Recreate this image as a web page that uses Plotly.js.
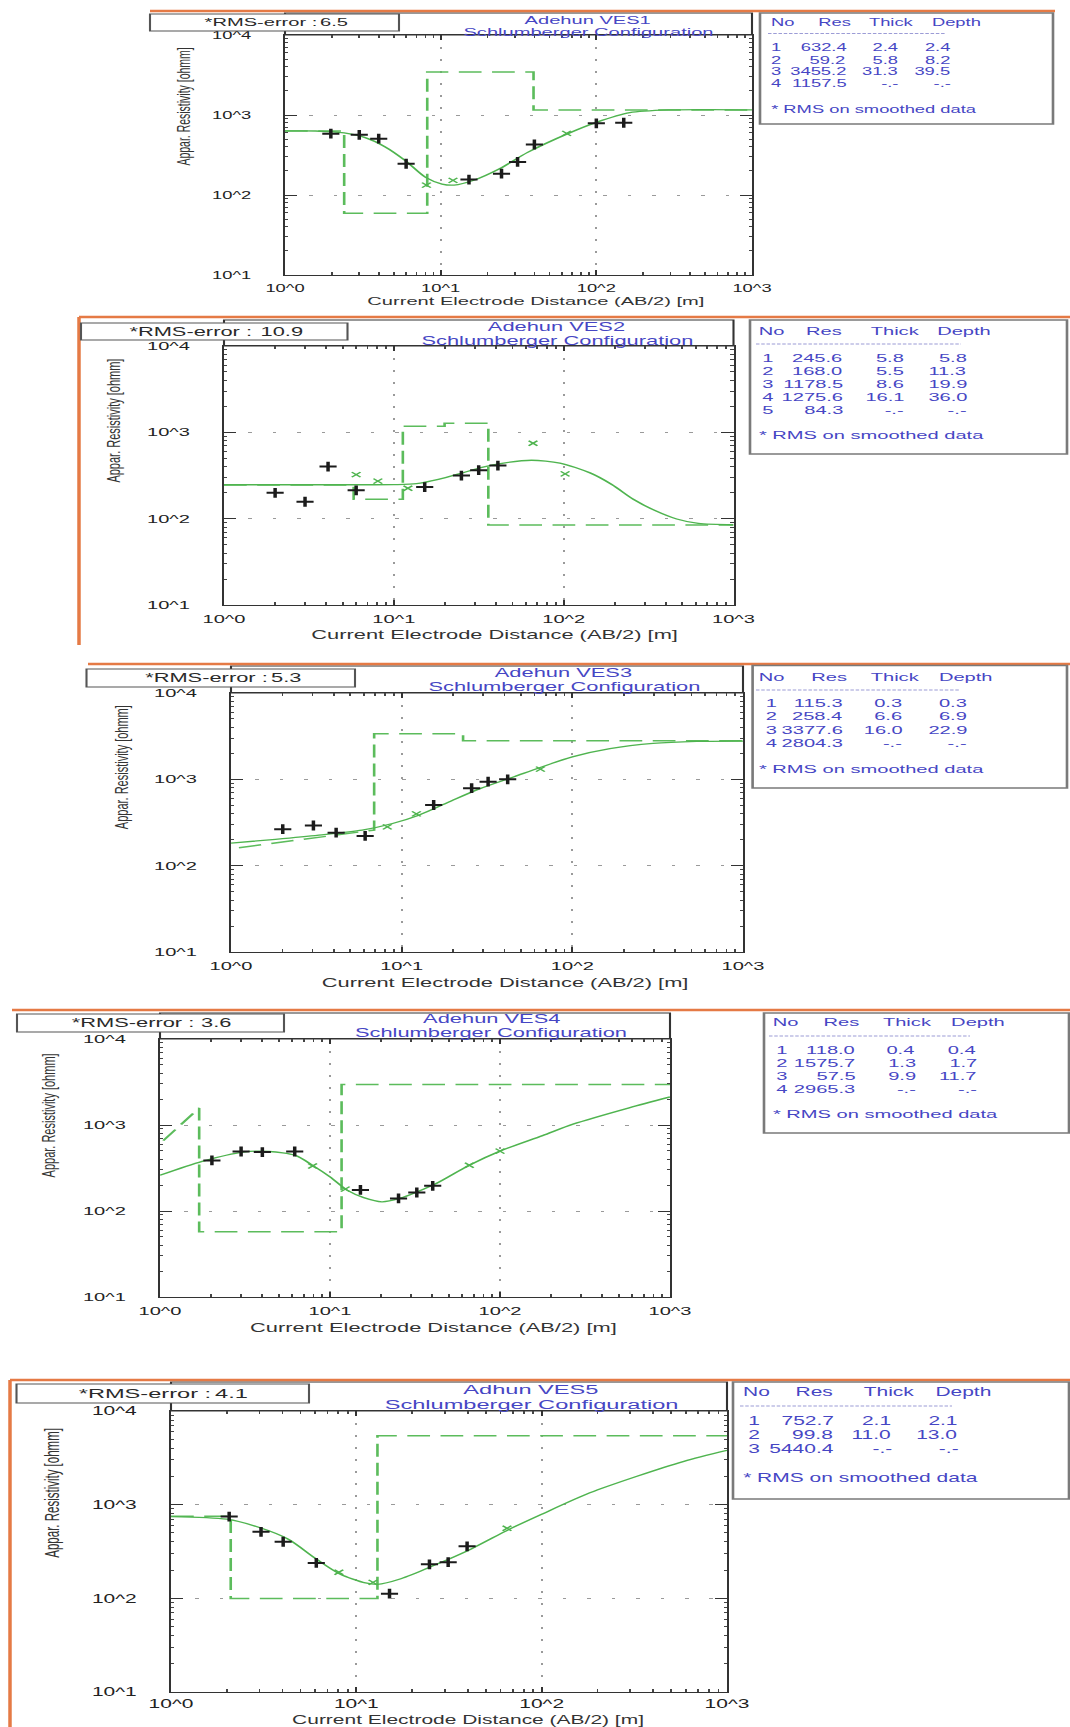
<!DOCTYPE html>
<html><head><meta charset="utf-8">
<script src="https://cdn.plot.ly/plotly-3.0.1.min.js"></script>
<style>
html,body{margin:0;padding:0;background:#fff;overflow:hidden;width:1070px;height:1727px}
#wrap{width:612px;height:1727px;transform:scaleX(1.748366);transform-origin:0 0;}
</style></head>
<body><div id="wrap"><div id="chart" style="width:612px;height:1727px"></div></div>
<script>
// ---------------- DATA ----------------
const vesNames = ['Adehun VES1', 'Adehun VES2', 'Adehun VES3', 'Adehun VES4', 'Adhun VES5'];
const subTitle = 'Schlumberger Configuration';
const rmsError = [6.5, 10.9, 5.3, 3.6, 4.1];
const xTickVals = [1, 10, 100, 1000];
const xTickText = ['10^0', '10^1', '10^2', '10^3'];
const yTickVals = [10, 100, 1000, 10000];
const yTickText = ['10^1', '10^2', '10^3', '10^4'];

// VES1
const ves1Res = [632.4, 59.2, 3455.2, 1157.5];
const ves1Thick = [2.4, 5.8, 31.3];
const ves1Depth = [2.4, 8.2, 39.5];
const ves1FitX = [1, 1.57, 2.4, 3.24, 4.38, 5.93, 8.0, 10.2, 12.2, 16.5, 23.7, 36.2, 66.2, 100, 164, 299, 547, 1000];
const ves1FitY = [632, 631, 596, 525, 402, 269, 166, 137, 133, 154, 211, 341, 589, 809, 1070, 1160, 1170, 1162];
const ves1ObsX = [1.97, 3.0, 4.0, 6.0, 15.2, 24.6, 31.2, 40.0, 100, 150];
const ves1ObsY = [585, 565, 506, 246, 156, 185, 259, 428, 787, 800];
const ves1SmX = [8.1, 12.0, 64.4];
const ves1SmY = [133, 152, 590];

// VES2
const ves2Res = [245.6, 168.0, 1178.5, 1275.6, 84.3];
const ves2Thick = [5.8, 5.5, 8.6, 16.1];
const ves2Depth = [5.8, 11.3, 19.9, 36.0];
const ves2FitX = [1, 3, 6, 10, 13.6, 18.3, 24.6, 33, 44.2, 64.7, 95, 143, 192, 257, 345, 463, 621, 1000];
const ves2FitY = [247, 247, 247, 248, 254, 285, 333, 393, 441, 475, 441, 339, 249, 168, 124, 99, 88, 85];
const ves2ObsX = [2.0, 3.0, 4.1, 6.0, 15.2, 25, 31.6, 41];
const ves2ObsY = [199, 157, 401, 213, 232, 316, 364, 412];
const ves2SmX = [6.0, 8.05, 12.1, 66, 102];
const ves2SmY = [324, 272, 225, 748, 330];

// VES3
const ves3Res = [115.3, 258.4, 3377.6, 2804.3];
const ves3Thick = [0.3, 6.6, 16.0];
const ves3Depth = [0.3, 6.9, 22.9];
const ves3FitX = [1, 1.82, 3.27, 5.87, 8.84, 12.6, 18.9, 28.5, 45.6, 64.8, 100, 166, 297, 535, 1000];
const ves3FitY = [182, 202, 226, 258, 308, 384, 546, 775, 1073, 1372, 1820, 2265, 2607, 2750, 2775];
const ves3ObsX = [2.01, 3.04, 4.13, 6.11, 15.4, 25.7, 32.1, 41.8];
const ves3ObsY = [265, 292, 241, 221, 504, 789, 940, 1000];
const ves3SmX = [8.24, 12.2, 65];
const ves3SmY = [282, 398, 1313];

// VES4
const ves4Res = [118.0, 1575.7, 57.5, 2965.3];
const ves4Thick = [0.4, 1.3, 9.9];
const ves4Depth = [0.4, 1.7, 11.7];
const ves4FitX = [1, 1.77, 3.09, 4.4, 6.25, 7.9, 10, 12.6, 15.8, 20.2, 25.6, 40.9, 65.5, 100, 178, 269, 575, 1000];
const ves4FitY = [260, 378, 484, 492, 443, 339, 249, 175, 143, 128, 140, 203, 339, 497, 753, 1023, 1585, 2120];
const ves4ObsX = [2.02, 3.0, 4.0, 6.2, 15.1, 25.3, 32.4, 40.2];
const ves4ObsY = [387, 492, 484, 492, 176, 140, 164, 196];
const ves4SmX = [7.9, 12.3, 66, 100];
const ves4SmY = [334, 180, 340, 497];

// VES5
const ves5Res = [752.7, 99.8, 5440.4];
const ves5Thick = [2.1, 11.0];
const ves5Depth = [2.1, 13.0];
const ves5FitX = [1, 2.0, 3.0, 4.27, 6.08, 8.15, 11.2, 13, 17.4, 26.3, 41.7, 67.1, 100, 182, 327, 586, 1000];
const ves5FitY = [747, 700, 570, 430, 263, 182, 146, 141, 162, 225, 337, 548, 791, 1340, 2014, 2904, 3800];
const ves5ObsX = [2.06, 3.06, 4.03, 6.08, 15.1, 24.8, 31.3, 39.6];
const ves5ObsY = [747, 513, 402, 239, 112, 231, 243, 359];
const ves5SmX = [8.05, 12.3, 65];
const ves5SmY = [190, 148, 560];

const series = [
  {res: ves1Res, thick: ves1Thick, depth: ves1Depth, fx: ves1FitX, fy: ves1FitY, ox: ves1ObsX, oy: ves1ObsY, sx: ves1SmX, sy: ves1SmY},
  {res: ves2Res, thick: ves2Thick, depth: ves2Depth, fx: ves2FitX, fy: ves2FitY, ox: ves2ObsX, oy: ves2ObsY, sx: ves2SmX, sy: ves2SmY},
  {res: ves3Res, thick: ves3Thick, depth: ves3Depth, fx: ves3FitX, fy: ves3FitY, ox: ves3ObsX, oy: ves3ObsY, sx: ves3SmX, sy: ves3SmY},
  {res: ves4Res, thick: ves4Thick, depth: ves4Depth, fx: ves4FitX, fy: ves4FitY, ox: ves4ObsX, oy: ves4ObsY, sx: ves4SmX, sy: ves4SmY},
  {res: ves5Res, thick: ves5Thick, depth: ves5Depth, fx: ves5FitX, fy: ves5FitY, ox: ves5ObsX, oy: ves5ObsY, sx: ves5SmX, sy: ves5SmY}
];

// ---------------- LAYOUT GEOMETRY (page pixels) ----------------
const W = 1070, H = 1727;
const panels = [
  {px0:285, px1:752, pyTop:35, pyBot:275, hTop:13, rms:[150,399,14,31], rmsLab:201, rmsVal:352, title:[588,20,32],
   leg:[760,1053,13,124], legY:{head:22, sep:33.5, rows:[47,59.5,71.5,83.5], note:108.5},
   legX:{no:768, res:834, thick:891, depth:957, num:767, resR:849, thickR:902, depthR:955},
   fs:{tick:10.5, title:11.5, leg:10.5, ylab:10.5, xtit:11.5, rms:11.5}, xstand:3, ylab:[183,106], xtit:[535,301], orange:{top:[150,1055,11]}},
  {px0:224, px1:733.5, pyTop:346, pyBot:605, hTop:320, rms:[81,347.5,323,340], rmsLab:126, rmsVal:306, title:[557,327,341],
   leg:[750,1067,320,454], legY:{head:331, sep:344, rows:[358,371,384,397,410], note:435},
   legX:{no:756, res:825, thick:895, depth:965, num:758, resR:846, thickR:907, depthR:971},
   fs:{tick:11.5, title:12.5, leg:11.5, ylab:11, xtit:12.5, rms:12.5}, xstand:3, ylab:[113,421], xtit:[495,635], orange:{top:[79,1070,317], left:[79,317,645]}},
  {px0:231, px1:743, pyTop:693, pyBot:952, hTop:666, rms:[86.5,355,669,687], rmsLab:141, rmsVal:305, title:[564,673,687],
   leg:[752.6,1067,665.5,788], legY:{head:677, sep:690, rows:[703,716,729.5,743], note:769},
   legX:{no:756, res:829, thick:895, depth:966, num:762, resR:846, thickR:906, depthR:970},
   fs:{tick:11.5, title:12.5, leg:11.5, ylab:11, xtit:12.5, rms:12.5}, xstand:3, ylab:[121,767], xtit:[505,983], orange:{top:[88,1070,664]}},
  {px0:160, px1:670, pyTop:1039, pyBot:1297, hTop:1013, rms:[17,284,1014,1032], rmsLab:69, rmsVal:234, title:[492,1019,1033],
   leg:[764,1069,1013,1133], legY:{head:1022, sep:1036, rows:[1050,1063,1076,1089], note:1114},
   legX:{no:769, res:842, thick:908, depth:979, num:772, resR:859, thickR:920, depthR:980},
   fs:{tick:11.5, title:12.5, leg:11.5, ylab:11, xtit:12.5, rms:12.5}, xstand:3, ylab:[48,1115], xtit:[434,1328], orange:{top:[12,1070,1010]}},
  {px0:171, px1:727, pyTop:1411, pyBot:1692, hTop:1382, rms:[16.5,309,1384,1403], rmsLab:75, rmsVal:252, title:[531,1389,1404],
   leg:[733,1069,1382,1499], legY:{head:1392, sep:1406, rows:[1421,1435,1449], note:1478},
   legX:{no:740, res:814, thick:890, depth:964, num:745, resR:837, thickR:896, depthR:962},
   fs:{tick:12, title:13.5, leg:12, ylab:11.5, xtit:12, rms:13.5}, xstand:0, ylab:[52,1493], xtit:[467,1720], orange:{top:[10,1070,1380], left:[10,1380,1727]}}
];

const FONT = 'Liberation Sans, Arial, Helvetica, sans-serif';
const GREEN = '#4fb44f';
const GREEN2 = '#5cbc5c';
const BLUE = '#4646c4';
const ORANGE = '#e57a45';
const DARK = '#1b1b1b';
const fx = v => v / W;
const fy = v => 1 - v / H;

function stepLine(res, depth, xmax) {
  const xs = [], ys = [];
  const firstInside = depth[0] >= 1;
  if (firstInside) { xs.push(1, depth[0]); ys.push(res[0], res[0]); }
  else { xs.push(depth[0]); ys.push(res[0]); }
  for (let i = 1; i < res.length; i++) {
    if (i > 1 || firstInside) { xs.push(depth[i-1]); ys.push(res[i]); }
    xs.push(i < depth.length ? depth[i] : xmax); ys.push(res[i]);
  }
  return {x: xs, y: ys};
}

const minorVals = [];
[1, 10, 100, 1000].forEach(d => { for (let k = 2; k <= 9; k++) minorVals.push(k * d); });

const traces = [], shapes = [], annotations = [];
const layout = {
  width: 612, height: 1727, margin: {l:0, r:0, t:0, b:0, pad:0},
  paper_bgcolor: '#fff', plot_bgcolor: '#fff', showlegend: false, hovermode: false
};

function ann(x, y, text, o) {
  o = o || {};
  annotations.push({xref:'paper', yref:'paper', x: fx(x), y: fy(y), text: text, showarrow:false,
    xanchor: o.xa || 'center', yanchor: 'middle', textangle: o.angle || 0,
    font: {family: FONT, size: o.size || 12, color: o.color || '#222'}});
}
function rect(x0, y0, x1, y1, color, width, fill, layer) {
  shapes.push({type:'rect', xref:'paper', yref:'paper', x0: fx(x0), x1: fx(x1), y0: fy(y1), y1: fy(y0),
    line:{color: color, width: width}, fillcolor: fill || 'rgba(0,0,0,0)', layer: layer || 'above'});
}
function line(x0, y0, x1, y1, color, width, dash) {
  shapes.push({type:'line', xref:'paper', yref:'paper', x0: fx(x0), x1: fx(x1), y0: fy(y0), y1: fy(y1),
    line:{color: color, width: width, dash: dash || 'solid'}, layer:'above'});
}

panels.forEach((p, i) => {
  const n = i + 1, s = series[i];
  const xa = 'x' + (n === 1 ? '' : n), ya = 'y' + (n === 1 ? '' : n);
  const xkey = 'xaxis' + (n === 1 ? '' : n), ykey = 'yaxis' + (n === 1 ? '' : n);
  layout[xkey] = {
    type:'log', range:[0, 3], domain:[fx(p.px0), fx(p.px1)], anchor: ya,
    tickmode:'array', tickvals: xTickVals, ticktext: xTickText,
    ticks:'inside', ticklen:5, tickwidth:1, tickcolor:'#333',
    minor:{ticks:'inside', ticklen:3, tickwidth:1, tickcolor:'#444', tickmode:'array', tickvals: minorVals, showgrid:false},
    showline:true, linecolor:'#333', linewidth:1.2, mirror:'ticks',
    showgrid:true, gridcolor:'#9a9a9a', gridwidth:1, griddash:'2px,10px',
    tickfont:{family: FONT, size: p.fs.tick, color:'#222'}, ticklabelstandoff: p.xstand, zeroline:false, fixedrange:true
  };
  layout[ykey] = {
    type:'log', range:[1, 4], domain:[fy(p.pyBot), fy(p.pyTop)], anchor: xa,
    tickmode:'array', tickvals: yTickVals, ticktext: yTickText,
    ticks:'inside', ticklen:7, tickwidth:1, tickcolor:'#333',
    minor:{ticks:'inside', ticklen:2, tickwidth:1, tickcolor:'#444', tickmode:'array', tickvals: minorVals, showgrid:false},
    showline:true, linecolor:'#333', linewidth:1.2, mirror:'ticks',
    showgrid:true, gridcolor:'#9a9a9a', gridwidth:1, griddash:'2px,12px',
    tickfont:{family: FONT, size: p.fs.tick, color:'#222'}, ticklabelstandoff: 16, zeroline:false, fixedrange:true
  };

  const st = stepLine(s.res, s.depth, 1000);
  traces.push({type:'scatter', mode:'lines', x: st.x, y: st.y, xaxis: xa, yaxis: ya,
    line:{color: GREEN2, width:1.5, dash:'13px,6px'}});
  traces.push({type:'scatter', mode:'lines', x: s.fx, y: s.fy, xaxis: xa, yaxis: ya,
    line:{color: GREEN, width:1.3, shape:'spline', smoothing:0.8}});
  traces.push({type:'scatter', mode:'markers', x: s.sx, y: s.sy, xaxis: xa, yaxis: ya,
    marker:{symbol:'x-thin-open', size:5, color: GREEN, line:{width:1.2, color: GREEN}}});
  traces.push({type:'scatter', mode:'markers', x: s.ox, y: s.oy, xaxis: xa, yaxis: ya,
    marker:{symbol:'cross-thin-open', size:7, color: DARK, line:{width:2, color: DARK}}});

  // header frame
  rect(p.px0, p.hTop, p.px1, p.pyTop, '#333', 1.2, null, 'below');
  // orange screenshot borders
  if (p.orange.top) line(p.orange.top[0], p.orange.top[2], p.orange.top[1], p.orange.top[2], ORANGE, 2.5);
  if (p.orange.left) line(p.orange.left[0], p.orange.left[1], p.orange.left[0], p.orange.left[2], ORANGE, 2);
  // RMS box
  rect(p.rms[0], p.rms[2], p.rms[1], p.rms[3], '#555', 1.2, '#fff', 'above');
  const rmsY = (p.rms[2] + p.rms[3]) / 2;
  ann(p.rmsLab, rmsY, '*RMS-error :', {xa:'left', size: p.fs.rms, color:'#2a2a2a'});
  ann(p.rmsVal, rmsY, rmsError[i].toFixed(1), {xa:'right', size: p.fs.rms, color:'#2a2a2a'});
  // titles
  ann(p.title[0], p.title[1], vesNames[i], {size: p.fs.title, color: BLUE});
  ann(p.title[0], p.title[2], subTitle, {size: p.fs.title, color: BLUE});
  // legend table
  rect(p.leg[0], p.leg[2], p.leg[1], p.leg[3], '#7a7a7a', 1.5, '#fff', 'above');
  const L = p.legX, LY = p.legY, fsz = p.fs.leg;
  ann(L.no, LY.head, 'No', {xa:'left', size: fsz, color: BLUE});
  ann(L.res, LY.head, 'Res', {size: fsz, color: BLUE});
  ann(L.thick, LY.head, 'Thick', {size: fsz, color: BLUE});
  ann(L.depth, LY.head, 'Depth', {size: fsz, color: BLUE});
  line(L.no, LY.sep, L.depthR - 10, LY.sep, '#9c9cd6', 1, '2px,1px');
  s.res.forEach((r, k) => {
    const y = LY.rows[k];
    ann(L.num, y, String(k + 1), {xa:'left', size: fsz, color: BLUE});
    ann(L.resR, y, r.toFixed(1), {xa:'right', size: fsz, color: BLUE});
    ann(L.thickR, y, k < s.thick.length ? s.thick[k].toFixed(1) : '-.-', {xa:'right', size: fsz, color: BLUE});
    ann(L.depthR, y, k < s.depth.length ? s.depth[k].toFixed(1) : '-.-', {xa:'right', size: fsz, color: BLUE});
  });
  ann(L.no, LY.note, '* RMS on smoothed data', {xa:'left', size: fsz, color: BLUE});
  // axis titles
  ann(p.ylab[0], p.ylab[1], 'Appar. Resistivity [ohmm]', {angle:-90, size: p.fs.ylab, color:'#333'});
  ann(p.xtit[0], p.xtit[1], 'Current Electrode Distance (AB/2) [m]', {size: p.fs.xtit, color:'#333'});
});

layout.shapes = shapes;
layout.annotations = annotations;
Plotly.newPlot('chart', traces, layout, {staticPlot:true, displayModeBar:false});
</script>
</body></html>
